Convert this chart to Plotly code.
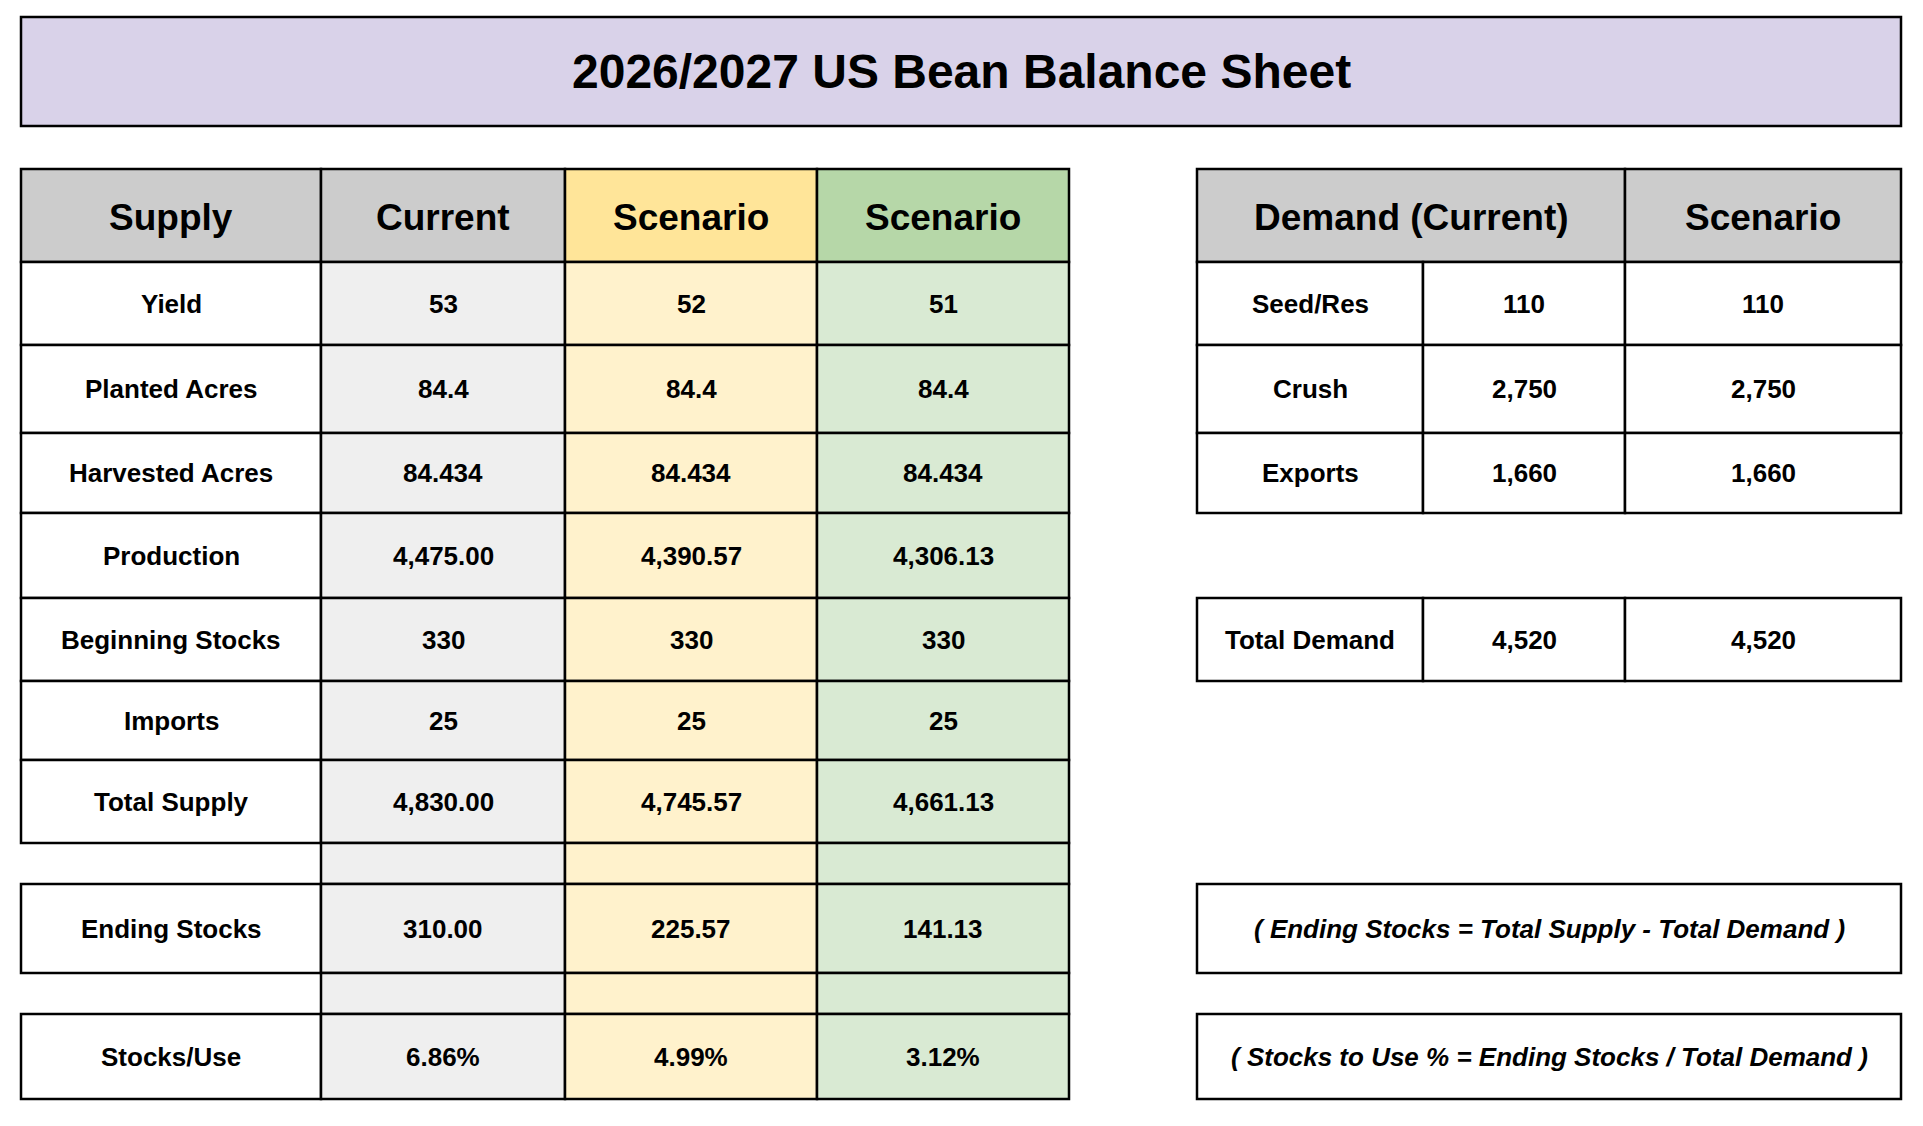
import plotly.graph_objects as go

# Dados da planilha
title = "2026/2027 US Bean Balance Sheet"

supply_header = ["Supply", "Current", "Scenario", "Scenario"]
supply_labels = ["Yield", "Planted Acres", "Harvested Acres", "Production",
                 "Beginning Stocks", "Imports", "Total Supply", None,
                 "Ending Stocks", None, "Stocks/Use"]
current = [53, 84.4, 84.434, 4475.00, 330, 25, 4830.00, None, 310.00, None, 0.0686]
scenario_a = [52, 84.4, 84.434, 4390.57, 330, 25, 4745.57, None, 225.57, None, 0.0499]
scenario_b = [51, 84.4, 84.434, 4306.13, 330, 25, 4661.13, None, 141.13, None, 0.0312]
row_formats = ["{:.0f}", "{:.1f}", "{:.3f}", "{:,.2f}", "{:,.0f}", "{:,.0f}",
               "{:,.2f}", None, "{:,.2f}", None, "{:.2%}"]

demand_header = ["Demand (Current)", "Scenario"]
demand_labels = ["Seed/Res", "Crush", "Exports", "Total Demand"]
demand_current = [110, 2750, 1660, 4520]
demand_scenario = [110, 2750, 1660, 4520]
demand_rows = [0, 1, 2, 4]

formulas = ["( Ending Stocks = Total Supply - Total Demand )",
            "( Stocks to Use % = Ending Stocks / Total Demand )"]
formula_rows = [8, 10]

# Layout (pixels da pagina; o body do html tem margem de 8px)
PAGE_W, PAGE_H = 1923, 1126
OFF = 8
W, H = PAGE_W - 2 * OFF, PAGE_H - 2 * OFF
title_box = (21, 1901, 17, 126)
supply_cols = [21, 321, 565, 817, 1069]
demand_cols = [1197, 1423, 1625, 1901]
row_edges = [169, 262, 345, 433, 513, 598, 681, 760, 843, 884, 973, 1014, 1099]

header_fill = ["#cccccc", "#cccccc", "#ffe599", "#b6d7a8"]
body_fill = ["#ffffff", "#efefef", "#fff2cc", "#d9ead3"]
FONT = "Liberation Sans, Arial, sans-serif"
LW = 2.5

fig = go.Figure()
shapes = []
annotations = []


def cell(x0, x1, y0, y1, fill, text=None, size=26, italic=False, shift=0):
    shapes.append(dict(type="rect", xref="x", yref="y", x0=x0, x1=x1, y0=y0, y1=y1,
                       fillcolor=fill, line=dict(color="black", width=LW), layer="below"))
    if text:
        annotations.append(dict(x=(x0 + x1) / 2, y=(y0 + y1) / 2, xref="x", yref="y",
                                text=text, showarrow=False, xanchor="center", yanchor="middle",
                                yshift=shift,
                                font=dict(family=FONT, size=size, color="black", weight="bold",
                                          style="italic" if italic else "normal")))


def body_span(i):
    return row_edges[i + 1], row_edges[i + 2]


# Titulo
cell(title_box[0], title_box[1], title_box[2], title_box[3], "#d9d2e9", title, size=48)

# Tabela de oferta
for j, h in enumerate(supply_header):
    cell(supply_cols[j], supply_cols[j + 1], row_edges[0], row_edges[1], header_fill[j], h,
         size=37, shift=-2)

series = [current, scenario_a, scenario_b]
for i, lab in enumerate(supply_labels):
    y0, y1 = body_span(i)
    if lab is not None:
        cell(supply_cols[0], supply_cols[1], y0, y1, body_fill[0], lab)
    for k, s in enumerate(series):
        txt = row_formats[i].format(s[i]) if s[i] is not None else None
        cell(supply_cols[k + 1], supply_cols[k + 2], y0, y1, body_fill[k + 1], txt)

# Tabela de demanda
cell(demand_cols[0], demand_cols[2], row_edges[0], row_edges[1], "#cccccc", demand_header[0],
     size=37, shift=-2)
cell(demand_cols[2], demand_cols[3], row_edges[0], row_edges[1], "#cccccc", demand_header[1],
     size=37, shift=-2)
for lab, c, s, r in zip(demand_labels, demand_current, demand_scenario, demand_rows):
    y0, y1 = body_span(r)
    cell(demand_cols[0], demand_cols[1], y0, y1, "#ffffff", lab)
    cell(demand_cols[1], demand_cols[2], y0, y1, "#ffffff", f"{c:,}")
    cell(demand_cols[2], demand_cols[3], y0, y1, "#ffffff", f"{s:,}")

# Formulas
for f, r in zip(formulas, formula_rows):
    y0, y1 = body_span(r)
    cell(demand_cols[0], demand_cols[3], y0, y1, "#ffffff", f, italic=True)

fig.update_layout(
    width=W, height=H,
    margin=dict(l=0, r=0, t=0, b=0),
    paper_bgcolor="white", plot_bgcolor="white",
    xaxis=dict(range=[OFF, OFF + W], visible=False, fixedrange=True),
    yaxis=dict(range=[OFF + H, OFF], visible=False, fixedrange=True),
    shapes=shapes,
    annotations=annotations,
    showlegend=False,
)

fig.write_html("out.html")
